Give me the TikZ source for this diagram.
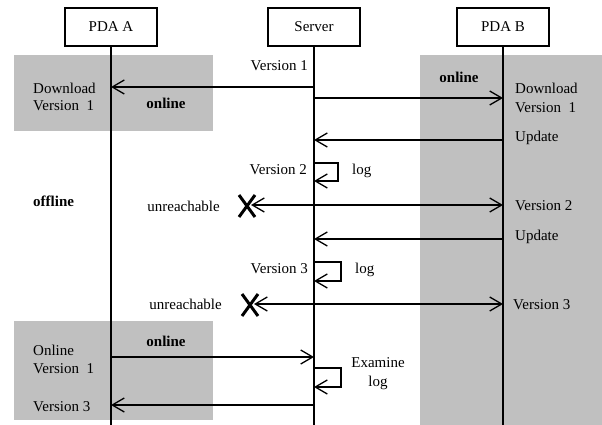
\documentclass[tikz,border=0pt]{standalone}
\usepackage{fontspec}
\setmainfont{Liberation Serif}
\usetikzlibrary{arrows.meta}
\definecolor{bggray}{RGB}{192,192,192}
\begin{document}
\begin{tikzpicture}[x=1pt,y=-1pt,
  every node/.style={font=\fontsize{15}{17}\selectfont, inner sep=0pt},
  actor/.style={draw, line width=1.3pt, minimum width=92pt, minimum height=38pt, fill=white},
  life/.style={line width=1.5pt},
  msg/.style={line width=1.3pt, -{Straight Barb[length=12pt,width=14pt]}},
  bmsg/.style={line width=1.3pt, {Straight Barb[length=12pt,width=14pt]}-{Straight Barb[length=12pt,width=14pt]}},
  bold/.style={font=\fontsize{15}{17}\selectfont\bfseries},
  cross/.style={line width=3pt},
]
\useasboundingbox (0,0) rectangle (602,425);
% shaded online regions
\fill[bggray] (14,55) rectangle (213,131);
\fill[bggray] (420,55) rectangle (602,425);
\fill[bggray] (14,321) rectangle (213,420);

% actors
\node[actor] (A) at (111,27) {PDA A};
\node[actor] (S) at (314,27) {Server};
\node[actor] (B) at (503,27) {PDA B};

% lifelines
\coordinate (Aend) at (111,425);
\coordinate (Send) at (314,425);
\coordinate (Bend) at (503,425);
\draw[life] (A.south) -- (Aend);
\draw[life] (S.south) -- (Send);
\draw[life] (B.south) -- (Bend);

% message points
\coordinate (s1) at (314,87);  \coordinate (a1) at (111,87);
\coordinate (s2) at (314,98);  \coordinate (b2) at (503,98);
\coordinate (b3) at (503,140); \coordinate (s3) at (314,140);
\coordinate (x1) at (247,206); \coordinate (x1t) at (251,205); \coordinate (b4) at (503,205);
\coordinate (b5) at (503,239); \coordinate (s5) at (314,239);
\coordinate (x2) at (250,305); \coordinate (x2t) at (254,304); \coordinate (b6) at (503,304);
\coordinate (a7) at (111,357); \coordinate (s7) at (314,357);
\coordinate (s8) at (314,405); \coordinate (a8) at (111,405);

% loops
\coordinate (l1a) at (314,163); \coordinate (l1b) at (314,181);
\coordinate (l2a) at (314,262); \coordinate (l2b) at (314,281);
\coordinate (l3a) at (314,368); \coordinate (l3b) at (314,387);

% messages
\draw[msg] (s1) -- (a1);
\draw[msg] (s2) -- (b2);
\draw[msg] (b3) -- (s3);
\draw[bmsg] (x1t) -- (b4);
\draw[msg] (b5) -- (s5);
\draw[bmsg] (x2t) -- (b6);
\draw[msg] (a7) -- (s7);
\draw[msg] (s8) -- (a8);

% self loops
\draw[msg] (l1a) -- ++(24,0) |- (l1b);
\draw[msg] (l2a) -- ++(27,0) |- (l2b);
\draw[msg] (l3a) -- ++(27,0) |- (l3b);

% unreachable crosses
\draw[cross] (x1) +(-8,-11) -- +(8,11) (x1) +(8,-11) -- +(-8,11);
\draw[cross] (x2) +(-8,-11) -- +(8,11) (x2) +(8,-11) -- +(-8,11);

% labels
\node[anchor=east] (tv1) at (308,66) {Version 1};
\node[anchor=west, align=left] (tdlA) at (33,97) {Download\\Version\ \ 1};
\node[bold] (ton1) at (166,103) {online};
\node[bold] (ton2) at (459,77) {online};
\node[anchor=west, align=left, font=\fontsize{15}{19}\selectfont] (tdlB) at (515,98) {Download\\Version\ \ 1};
\node[anchor=west] (tup1) at (515,138) {Update};
\node[anchor=east] (tv2) at (307,170) {Version 2};
\node[anchor=west] (tlog1) at (352,171) {log};
\node[bold, anchor=west] (toff) at (33,201) {offline};
\node[anchor=east] (tun1) at (220,206) {unreachable};
\node[anchor=west] (tv2b) at (515,206) {Version 2};
\node[anchor=west] (tup2) at (515,237) {Update};
\node[anchor=east] (tv3) at (308,269) {Version 3};
\node[anchor=west] (tlog2) at (355,270) {log};
\node[anchor=east] (tun2) at (222,304) {unreachable};
\node[anchor=west] (tv3b) at (513,305) {Version 3};
\node[bold] (ton3) at (166,341) {online};
\node[anchor=west, align=left, font=\fontsize{15}{18}\selectfont] (tonl) at (33,359) {Online\\Version\ \ 1};
\node[anchor=west] (tv3c) at (33,407) {Version 3};
\node[align=center, font=\fontsize{15}{19}\selectfont] (texl) at (378,374) {Examine\\log};
\end{tikzpicture}
\end{document}
